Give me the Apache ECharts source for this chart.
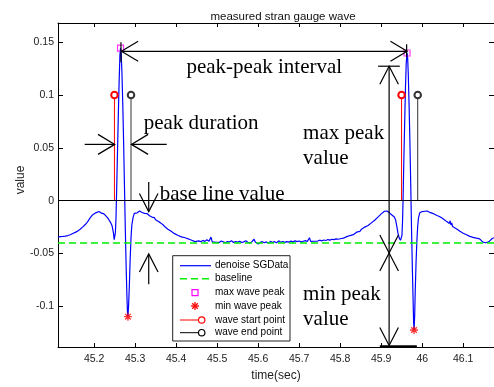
<!DOCTYPE html>
<html><head><meta charset="utf-8">
<script src="https://cdn.jsdelivr.net/npm/echarts@6/dist/echarts.min.js"></script>
<style>html,body{margin:0;padding:0;background:#fff}#c{width:494px;height:387px}</style>
</head><body><div id="c"></div>
<script>
// ---------- data ----------
const xTicks = [45.2, 45.3, 45.4, 45.5, 45.6, 45.7, 45.8, 45.9, 46, 46.1];
const yTicks = [-0.1, -0.05, 0, 0.05, 0.1, 0.15];
const xRange = [45.112, 46.175];
const yRange = [-0.1385, 0.1682];

const wavePoints = [
 [45.112,-0.0345],[45.118,-0.0340],[45.124,-0.0338],[45.130,-0.0335],[45.136,-0.0330],
 [45.142,-0.0322],[45.148,-0.0310],[45.154,-0.0300],[45.160,-0.0288],[45.166,-0.0270],
 [45.172,-0.0250],[45.178,-0.0228],[45.184,-0.0200],[45.190,-0.0165],[45.196,-0.0135],
 [45.200,-0.0120],[45.204,-0.0115],[45.208,-0.0108],[45.212,-0.0102],[45.215,-0.0112],
 [45.218,-0.0118],[45.221,-0.0110],[45.224,-0.0125],[45.228,-0.0140],[45.232,-0.0158],
 [45.236,-0.0180],[45.240,-0.0205],[45.244,-0.0240],[45.247,-0.0300],[45.249,-0.0370],
 [45.2505,-0.0385],[45.252,-0.0300],[45.2535,-0.0150],[45.255,0.0100],[45.257,0.0450],
 [45.259,0.0800],[45.261,0.1120],[45.263,0.1380],[45.2645,0.1445],[45.266,0.1400],
 [45.268,0.1200],[45.270,0.0900],[45.272,0.0550],[45.274,0.0150],[45.276,-0.0250],
 [45.278,-0.0600],[45.280,-0.0900],[45.2815,-0.1070],[45.2825,-0.1098],[45.284,-0.1000],
 [45.286,-0.0800],[45.288,-0.0550],[45.290,-0.0350],[45.292,-0.0230],[45.295,-0.0160],
 [45.298,-0.0120],[45.3015,-0.0103],[45.305,-0.0115],[45.308,-0.0120],[45.311,-0.0097],
 [45.314,-0.0105],[45.317,-0.0112],[45.320,-0.0103],[45.323,-0.0120],[45.326,-0.0128],
 [45.329,-0.0122],[45.332,-0.0138],[45.335,-0.0142],[45.338,-0.0135],[45.341,-0.0155],
 [45.344,-0.0165],[45.347,-0.0160],[45.350,-0.0180],[45.353,-0.0178],[45.356,-0.0195],
 [45.359,-0.0190],[45.362,-0.0210],[45.365,-0.0222],[45.368,-0.0228],[45.371,-0.0240],
 [45.374,-0.0252],[45.377,-0.0258],[45.380,-0.0270],[45.384,-0.0278],[45.388,-0.0290],
 [45.392,-0.0300],[45.396,-0.0312],[45.400,-0.0325],[45.405,-0.0330],[45.410,-0.0338],
 [45.415,-0.0345],[45.420,-0.0348],[45.425,-0.0355],[45.430,-0.0362],[45.434,-0.0368],
 [45.438,-0.0375],[45.442,-0.0380],[45.446,-0.0388],[45.450,-0.0392],[45.455,-0.0380],
 [45.460,-0.0388],[45.465,-0.0376],[45.470,-0.0385],[45.475,-0.0370],[45.480,-0.0383],
 [45.485,-0.0345],[45.488,-0.0390],[45.492,-0.0382],[45.496,-0.0393],[45.500,-0.0385],
 [45.505,-0.0395],[45.510,-0.0382],[45.515,-0.0390],[45.520,-0.0398],[45.525,-0.0386],
 [45.530,-0.0392],[45.535,-0.0380],[45.540,-0.0395],[45.545,-0.0388],[45.550,-0.0393],
 [45.555,-0.0384],[45.560,-0.0396],[45.565,-0.0390],[45.570,-0.0380],[45.575,-0.0393],
 [45.580,-0.0400],[45.585,-0.0388],[45.590,-0.0365],[45.593,-0.0392],[45.597,-0.0398],
 [45.600,-0.0410],[45.605,-0.0395],[45.610,-0.0388],[45.615,-0.0398],[45.620,-0.0390],
 [45.625,-0.0402],[45.630,-0.0385],[45.635,-0.0395],[45.640,-0.0388],[45.645,-0.0398],
 [45.650,-0.0380],[45.655,-0.0393],[45.660,-0.0386],[45.665,-0.0395],[45.670,-0.0388],
 [45.675,-0.0392],[45.680,-0.0383],[45.685,-0.0390],[45.690,-0.0380],[45.695,-0.0388],
 [45.700,-0.0382],[45.705,-0.0390],[45.710,-0.0384],[45.715,-0.0378],[45.720,-0.0386],
 [45.725,-0.0350],[45.728,-0.0385],[45.732,-0.0378],[45.736,-0.0384],[45.740,-0.0376],
 [45.745,-0.0382],[45.750,-0.0374],[45.755,-0.0380],[45.760,-0.0372],[45.765,-0.0377],
 [45.770,-0.0368],[45.775,-0.0373],[45.780,-0.0365],[45.785,-0.0368],[45.790,-0.0362],
 [45.795,-0.0365],[45.800,-0.0360],[45.804,-0.0352],[45.808,-0.0355],[45.812,-0.0345],
 [45.816,-0.0340],[45.820,-0.0338],[45.824,-0.0330],[45.828,-0.0318],[45.832,-0.0322],
 [45.836,-0.0305],[45.840,-0.0298],[45.844,-0.0285],[45.848,-0.0290],[45.852,-0.0270],
 [45.856,-0.0262],[45.860,-0.0250],[45.864,-0.0258],[45.868,-0.0235],[45.872,-0.0225],
 [45.876,-0.0210],[45.880,-0.0200],[45.884,-0.0185],[45.888,-0.0172],[45.892,-0.0155],
 [45.896,-0.0140],[45.900,-0.0125],[45.904,-0.0110],[45.908,-0.0100],[45.911,-0.0091],
 [45.914,-0.0098],[45.917,-0.0105],[45.920,-0.0115],[45.923,-0.0125],[45.926,-0.0135],
 [45.929,-0.0142],[45.932,-0.0155],[45.935,-0.0180],[45.938,-0.0240],[45.941,-0.0310],
 [45.944,-0.0354],[45.947,-0.0375],[45.949,-0.0380],[45.9505,-0.0330],[45.952,-0.0200],
 [45.9535,0.0050],[45.955,0.0350],[45.957,0.0700],[45.959,0.1050],[45.961,0.1300],
 [45.963,0.1398],[45.9645,0.1350],[45.966,0.1200],[45.968,0.0900],[45.970,0.0550],
 [45.972,0.0150],[45.974,-0.0280],[45.976,-0.0650],[45.978,-0.0980],[45.979,-0.1150],
 [45.980,-0.1224],[45.9815,-0.1100],[45.983,-0.0850],[45.985,-0.0580],[45.987,-0.0380],
 [45.989,-0.0240],[45.991,-0.0160],[45.994,-0.0115],[45.997,-0.0100],[46.000,-0.0103],
 [46.003,-0.0095],[46.006,-0.0100],[46.009,-0.0090],[46.012,-0.0098],[46.015,-0.0105],
 [46.018,-0.0110],[46.021,-0.0108],[46.024,-0.0118],[46.027,-0.0120],[46.030,-0.0128],
 [46.033,-0.0132],[46.036,-0.0140],[46.039,-0.0145],[46.042,-0.0150],[46.045,-0.0158],
 [46.048,-0.0165],[46.051,-0.0175],[46.054,-0.0180],[46.057,-0.0192],[46.060,-0.0198],
 [46.063,-0.0205],[46.066,-0.0215],[46.068,-0.0190],[46.070,-0.0230],[46.072,-0.0210],
 [46.074,-0.0245],[46.077,-0.0235],[46.080,-0.0258],[46.083,-0.0250],[46.086,-0.0272],
 [46.089,-0.0280],[46.092,-0.0290],[46.096,-0.0300],[46.100,-0.0308],[46.104,-0.0315],
 [46.108,-0.0322],[46.112,-0.0330],[46.116,-0.0338],[46.120,-0.0342],[46.124,-0.0347],
 [46.128,-0.0350],[46.132,-0.0355],[46.136,-0.0358],[46.140,-0.0362],[46.144,-0.0370],
 [46.148,-0.0392],[46.152,-0.0408],[46.155,-0.0398],[46.158,-0.0405],[46.162,-0.0390],
 [46.166,-0.0375],[46.170,-0.0360],[46.175,-0.0350]
];
const baselineValue = -0.038;
const maxPeaks = [[45.2645, 0.1445], [45.963, 0.1398]];
const minPeaks = [[45.2825, -0.1098], [45.980, -0.1224]];
const startTimes = [45.2496, 45.9496];
const endTimes = [45.290, 45.989];
const pointLevel = 0.1;
const stemBase = 0;

// annotation anchors (data units)
const annoArrows = [
  {from: [45.2667, 0.1414], to: [45.9632, 0.1414], heads: [['from', 'left'], ['to', 'right']]},
  {from: [45.1771, 0.0533], to: [45.2503, 0.0533], heads: [['to', 'right']]},
  {from: [45.3771, 0.0533], to: [45.2910, 0.0533], heads: [['to', 'left']]},
  {from: [45.9193, 0.1273], to: [45.9193, -0.1371], heads: [['from', 'up'], ['to', 'down']]},
  {from: [45.9193, -0.0495], to: [45.9193, -0.0495], heads: [['to', 'down'], ['to', 'up']]},
  {from: [45.3332, 0.0178], to: [45.3332, -0.0103], heads: [['to', 'down']]},
  {from: [45.3332, -0.0792], to: [45.3332, -0.0504], heads: [['to', 'up']]},
  {from: [45.8925, 0.1273], to: [45.9454, 0.1273], heads: []},
  {from: [45.2655, 0.150], to: [45.2655, 0.131], heads: []},
  {from: [45.962, 0.148], to: [45.962, 0.136], heads: []}
];
const annoBar = {from: [45.8966, -0.1378], to: [45.9869, -0.1378]};
const annoTexts = [
  {text: 'peak-peak interval', at: [45.4252, 0.1217]},
  {text: 'peak duration', at: [45.321, 0.0679]},
  {text: 'max peak', at: [45.7096, 0.0585]},
  {text: 'value', at: [45.7096, 0.0355]},
  {text: 'min peak', at: [45.7096, -0.0936]},
  {text: 'value', at: [45.7096, -0.1171]},
  {text: 'base line value', at: [45.360, 0.0012]}
];
const legendLabels = ['denoise SGData', 'baseline', 'max wave peak', 'min wave peak', 'wave start point', 'wave end point'];

// ---------- chart ----------
const SANS = '"Liberation Sans", Arial, sans-serif';
const SERIF = '"Liberation Serif", "Times New Roman", serif';
const chart = echarts.init(document.getElementById('c'), null, {renderer: 'canvas'});

function stemSeries(t, color) {
  return {
    type: 'line', silent: true, symbol: 'emptyCircle', symbolSize: 6.5, showSymbol: true,
    lineStyle: {color: color, width: 1},
    itemStyle: {color: color, borderWidth: 1.2},
    data: [{value: [t, stemBase], symbol: 'none'}, {value: [t, pointLevel]}],
    z: 4
  };
}
const starPath = 'path://M5,0L5,10M0,5L10,5M1.5,1.5L8.5,8.5M1.5,8.5L8.5,1.5';

const axisCommon = {
  type: 'value', axisLine: {show: true, onZero: false, lineStyle: {color: '#000', width: 1}},
  splitLine: {show: false}
};

const option = {
  animation: false,
  backgroundColor: '#fff',
  title: {text: 'measured stran gauge wave', left: 278, top: 6, textAlign: 'center',
    textStyle: {fontFamily: SANS, fontSize: 11.5, fontWeight: 'normal', color: '#111'}},
  grid: {left: 58, top: 23, width: 436, height: 327, containLabel: false},
  xAxis: [
    Object.assign({}, axisCommon, {
      min: xRange[0], max: xRange[1], position: 'bottom',
      axisTick: {show: true, inside: true, length: 4, customValues: xTicks, lineStyle: {color: '#000'}},
      axisLabel: {customValues: xTicks, fontFamily: SANS, fontSize: 10.5, color: '#222', margin: 7},
      name: 'time(sec)', nameLocation: 'middle', nameGap: 23, nameMoveOverlap: false,
      nameTextStyle: {fontFamily: SANS, fontSize: 12, color: '#222'}
    }),
    Object.assign({}, axisCommon, {
      min: xRange[0], max: xRange[1], position: 'top',
      axisTick: {show: true, inside: true, length: 4, customValues: xTicks, lineStyle: {color: '#000'}},
      axisLabel: {show: false}
    })
  ],
  yAxis: [
    Object.assign({}, axisCommon, {
      min: yRange[0], max: yRange[1], position: 'left',
      axisTick: {show: true, inside: true, length: 5, customValues: yTicks, lineStyle: {color: '#000'}},
      axisLabel: {customValues: yTicks, fontFamily: SANS, fontSize: 10.5, color: '#222', margin: 4},
      name: 'value', nameLocation: 'middle', nameGap: 31, nameRotate: 90, nameMoveOverlap: false,
      nameTextStyle: {fontFamily: SANS, fontSize: 12, color: '#222', padding: [0, 0, 0, 10]}
    }),
    Object.assign({}, axisCommon, {
      min: yRange[0], max: yRange[1], position: 'right',
      axisTick: {show: true, inside: true, length: 5, customValues: yTicks, lineStyle: {color: '#000'}},
      axisLabel: {show: false}
    })
  ],
  series: [
    {name: 'denoise SGData', type: 'line', data: wavePoints, symbol: 'none', silent: true,
      lineStyle: {color: '#0000ff', width: 1.2}, z: 2},
    {name: 'baseline', type: 'line', data: [], silent: true,
      markLine: {silent: true, symbol: ['none', 'none'], label: {show: false},
        lineStyle: {color: '#00ee00', width: 1.5, type: [7, 4]},
        data: [{yAxis: baselineValue}]}, z: 3},
    {name: 'max wave peak', type: 'scatter', data: maxPeaks, symbol: 'rect', symbolSize: 6, silent: true,
      itemStyle: {color: 'rgba(0,0,0,0)', borderColor: '#ff00ff', borderWidth: 1.2}, z: 5},
    {name: 'min wave peak', type: 'scatter', data: minPeaks, symbol: starPath, symbolSize: 8, silent: true,
      itemStyle: {color: 'rgba(0,0,0,0)', borderColor: '#ff0000', borderWidth: 1.3}, z: 5},
    Object.assign(stemSeries(startTimes[0], '#ff0000'), {
      markLine: {silent: true, symbol: ['none', 'none'], label: {show: false},
        lineStyle: {color: '#000', width: 1, type: 'solid'}, data: [{yAxis: stemBase}]}}),
    stemSeries(startTimes[1], '#ff0000'),
    stemSeries(endTimes[0], '#333333'),
    stemSeries(endTimes[1], '#333333')
  ]
};
chart.setOption(option);

// ---------- annotations & legend ----------
function px(p) { return chart.convertToPixel({xAxisIndex: 0, yAxisIndex: 0}, p); }
const g = [];
const LW = 1.2;
function headPts(tip, dir) {
  const [x, y] = tip;
  if (dir === 'left') return [[x + 16.7, y - 10], [x, y], [x + 16.7, y + 10]];
  if (dir === 'right') return [[x - 16.7, y - 10], [x, y], [x - 16.7, y + 10]];
  if (dir === 'up') return [[x - 9.3, y + 18], [x, y], [x + 9.3, y + 18]];
  return [[x - 9.3, y - 18], [x, y], [x + 9.3, y - 18]];
}
function seg(x1, y1, x2, y2, stroke, lw, z, dash) {
  const s = {stroke: stroke, lineWidth: lw};
  if (dash) s.lineDash = dash;
  return {type: 'line', z: z, shape: {x1: x1, y1: y1, x2: x2, y2: y2}, style: s};
}
annoArrows.forEach(a => {
  const p1 = px(a.from), p2 = px(a.to);
  if (p1[0] !== p2[0] || p1[1] !== p2[1]) {
    g.push(seg(p1[0], p1[1], p2[0], p2[1], '#000', LW, 100));
  }
  a.heads.forEach(h => {
    const tip = h[0] === 'from' ? p1 : p2;
    g.push({type: 'polyline', z: 100, shape: {points: headPts(tip, h[1])},
      style: {stroke: '#000', lineWidth: LW, fill: null}});
  });
});
(function () {
  const p1 = px(annoBar.from), p2 = px(annoBar.to);
  g.push(seg(p1[0], p1[1], p2[0], p2[1], '#000', 2.2, 100));
})();
annoTexts.forEach(t => {
  const p = px(t.at);
  g.push({type: 'text', z: 101, x: p[0], y: p[1] - 5,
    style: {text: t.text, font: '21px ' + SERIF, fill: '#000',
      textAlign: 'left', textVerticalAlign: 'middle', align: 'left', verticalAlign: 'middle'}});
});

// legend box
const LX = 172.7, LY = 255.7, LWd = 117.3, LH = 85.3;
g.push({type: 'rect', z: 110, shape: {x: LX, y: LY, width: LWd, height: LH},
  style: {fill: '#fff', stroke: '#222', lineWidth: 1}});
const rowY = [265.7, 278.7, 292.7, 306, 320, 332.7];
legendLabels.forEach((lab, i) => {
  g.push({type: 'text', z: 112, x: 215, y: rowY[i],
    style: {text: lab, font: '10px ' + SANS, fill: '#000',
      textAlign: 'left', textVerticalAlign: 'middle', align: 'left', verticalAlign: 'middle'}});
});
g.push(seg(180, rowY[0], 211, rowY[0], '#0000ff', 1.2, 111));
g.push(seg(180, rowY[1], 211, rowY[1], '#00ee00', 1.5, 111, [7, 4]));
g.push({type: 'rect', z: 111, shape: {x: 192, y: rowY[2] - 3, width: 6, height: 6}, style: {fill: null, stroke: '#ff00ff', lineWidth: 1.2}});
(function () {
  const cx = 195, cy = rowY[3];
  g.push(seg(cx, cy - 4, cx, cy + 4, '#ff0000', 1.3, 111));
  g.push(seg(cx - 4, cy, cx + 4, cy, '#ff0000', 1.3, 111));
  g.push(seg(cx - 2.8, cy - 2.8, cx + 2.8, cy + 2.8, '#ff0000', 1.3, 111));
  g.push(seg(cx - 2.8, cy + 2.8, cx + 2.8, cy - 2.8, '#ff0000', 1.3, 111));
})();
[[rowY[4], '#ff0000'], [rowY[5], '#000']].forEach(r => {
  g.push(seg(180, r[0], 198.5, r[0], r[1], 1, 111));
  g.push({type: 'circle', z: 111, shape: {cx: 201.7, cy: r[0], r: 3.2}, style: {fill: '#fff', stroke: r[1], lineWidth: 1.2}});
});

chart.setOption({graphic: g});
</script>
</body></html>
